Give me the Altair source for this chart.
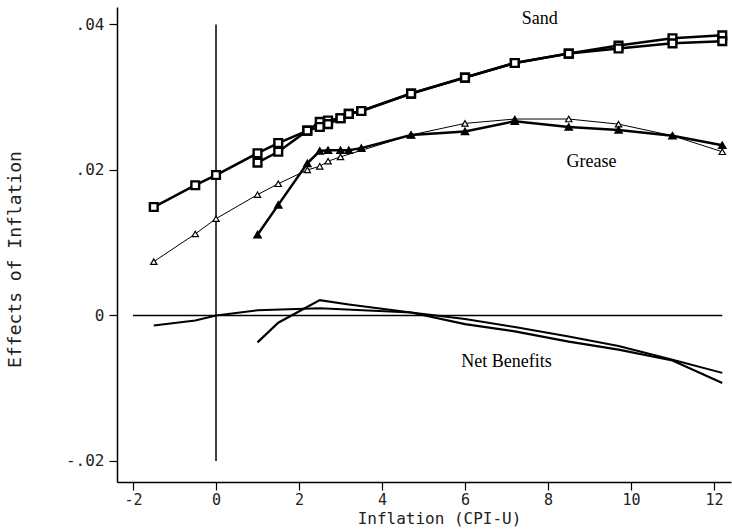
import altair as alt
import pandas as pd

# ---- data ----
x_a = [-1.5, -0.5, 0, 1, 1.5, 2.2, 2.5, 2.7, 3, 3.2, 3.5, 4.7, 6, 7.2, 8.5, 9.7, 11, 12.2]
sand_a = [.0149, .0179, .0193, .0223, .0237, .0254, .0266, .0268, .0271, .0277, .0281,
          .0305, .0327, .0347, .0360, .0371, .0381, .0385]
x_b = [1, 1.5, 2.2, 2.5, 2.7, 3, 3.2, 3.5, 4.7, 6, 7.2, 8.5, 9.7, 11, 12.2]
sand_b = [.0210, .0225, .0254, .0259, .0263, .0271, .0277, .0281, .0305, .0327, .0347,
          .0360, .0367, .0374, .0377]

x_ga = [-1.5, -0.5, 0, 1, 1.5, 2.2, 2.5, 2.7, 3, 4.7, 6, 7.2, 8.5, 9.7, 11, 12.2]
grease_a = [.0074, .0112, .0133, .0166, .0181, .0200, .0205, .0212, .0218, .0248, .0264,
            .0270, .0270, .0263, .0247, .0225]
grease_b = [.0111, .0152, .0209, .0226, .0227, .0227, .0227, .0230, .0248, .0253, .0267,
            .0259, .0255, .0247, .0234]

x_na = [-1.5, -0.5, 0, 1, 2.5, 4.7, 6, 7.2, 8.5, 9.7, 11, 12.2]
net_a = [-.0014, -.0007, 0, .0007, .0010, .0004, -.0005, -.0016, -.0029, -.0042, -.0061, -.0079]
x_nb = [1, 1.5, 2.5, 3.2, 4.7, 6, 7.2, 8.5, 9.7, 11, 12.2]
net_b = [-.0037, -.0010, .0021, .0015, .0004, -.0012, -.0022, -.0036, -.0047, -.0062, -.0093]

x_ticks = [-2, 0, 2, 4, 6, 8, 10, 12]
y_ticks = [-0.02, 0, 0.02, 0.04]

labels = ["Sand", "Grease", "Net Benefits"]
label_x = [7.8, 9.05, 7.0]
label_y = [0.0408, 0.0211, -0.0064]

zero_line_x = [-2, 12.2]
vert_line_y = [-0.02, 0.04]

XDOM = [-2.386, 12.41]
YDOM = [-0.0229, 0.0424]

mono = "DejaVu Sans Mono"

xs = alt.Scale(domain=XDOM, nice=False, zero=False)
ys = alt.Scale(domain=YDOM, nice=False, zero=False)

def df(x, y):
    return pd.DataFrame({"x": x, "y": y})

X = alt.X("x:Q", scale=xs,
          axis=alt.Axis(values=x_ticks, title="Inflation (CPI-U)",
                        labelExpr="toString(datum.value)", labelPadding=2, labelFontSize=15,
                        titleX=322, titleY=36, titleBaseline="middle", titleAlign="center",
                        titleFontSize=16))
Y = alt.Y("y:Q", scale=ys,
          axis=alt.Axis(values=y_ticks, title="Effects of Inflation",
                        labelExpr="datum.value == 0 ? '0' : replace(toString(datum.value), '0.', '.')",
                        labelPadding=5, labelFontSize=16,
                        titleX=-102, titleY=252, titleAngle=-90, titleBaseline="middle",
                        titleAlign="center", titleFontSize=18))

def line(x, y, w):
    return alt.Chart(df(x, y)).mark_line(color="black", strokeWidth=w).encode(x=X, y=Y)

def pts(x, y, shape, size, fill, sw):
    return alt.Chart(df(x, y)).mark_point(shape=shape, size=size, filled=False, fill=fill,
                                          fillOpacity=1, stroke="black", strokeWidth=sw,
                                          opacity=1).encode(x=X, y=Y)

zero_rule = alt.Chart(pd.DataFrame({"x": [zero_line_x[0]], "x2": [zero_line_x[1]], "y": [0]})).mark_rule(
    color="black", strokeWidth=1.5).encode(x=X, x2="x2:Q", y=Y)
vert_rule = alt.Chart(pd.DataFrame({"x": [0], "y": [vert_line_y[0]], "y2": [vert_line_y[1]]})).mark_rule(
    color="black", strokeWidth=1.5).encode(x=X, y=Y, y2="y2:Q")

text = alt.Chart(pd.DataFrame({"x": label_x, "y": label_y, "t": labels})).mark_text(
    font="Liberation Serif", fontSize=18, color="black", align="center", baseline="middle"
).encode(x=X, y=Y, text="t:N")

layers = [
    zero_rule, vert_rule,
    line(x_na, net_a, 2), line(x_nb, net_b, 2.2),
    line(x_ga, grease_a, 1), line(x_b, grease_b, 2.5),
    line(x_a, sand_a, 2.5), line(x_b, sand_b, 2.5),
    pts(x_ga, grease_a, "triangle-up", 40, "white", 1.2),
    pts(x_b, grease_b, "triangle-up", 50, "black", 1.5),
    pts(x_a, sand_a, "square", 60, "white", 2.4),
    pts(x_b, sand_b, "square", 60, "white", 2.4),
    text,
]

chart = alt.layer(*layers).properties(
    width=614, height=475,
    autosize=alt.AutoSizeParams(type="none"),
    padding={"left": 117, "top": 7, "right": 1, "bottom": 47},
    background="white",
).configure_view(stroke=None).configure_axis(
    grid=False, domainColor="black", domainWidth=1.5, tickColor="black", tickWidth=1.2,
    tickSize=8, labelFont=mono, labelColor="#222",
    titleFont=mono, titleColor="#222", titleFontWeight="normal",
)

chart.save("out.html", embed_options={"renderer": "svg", "actions": False})
